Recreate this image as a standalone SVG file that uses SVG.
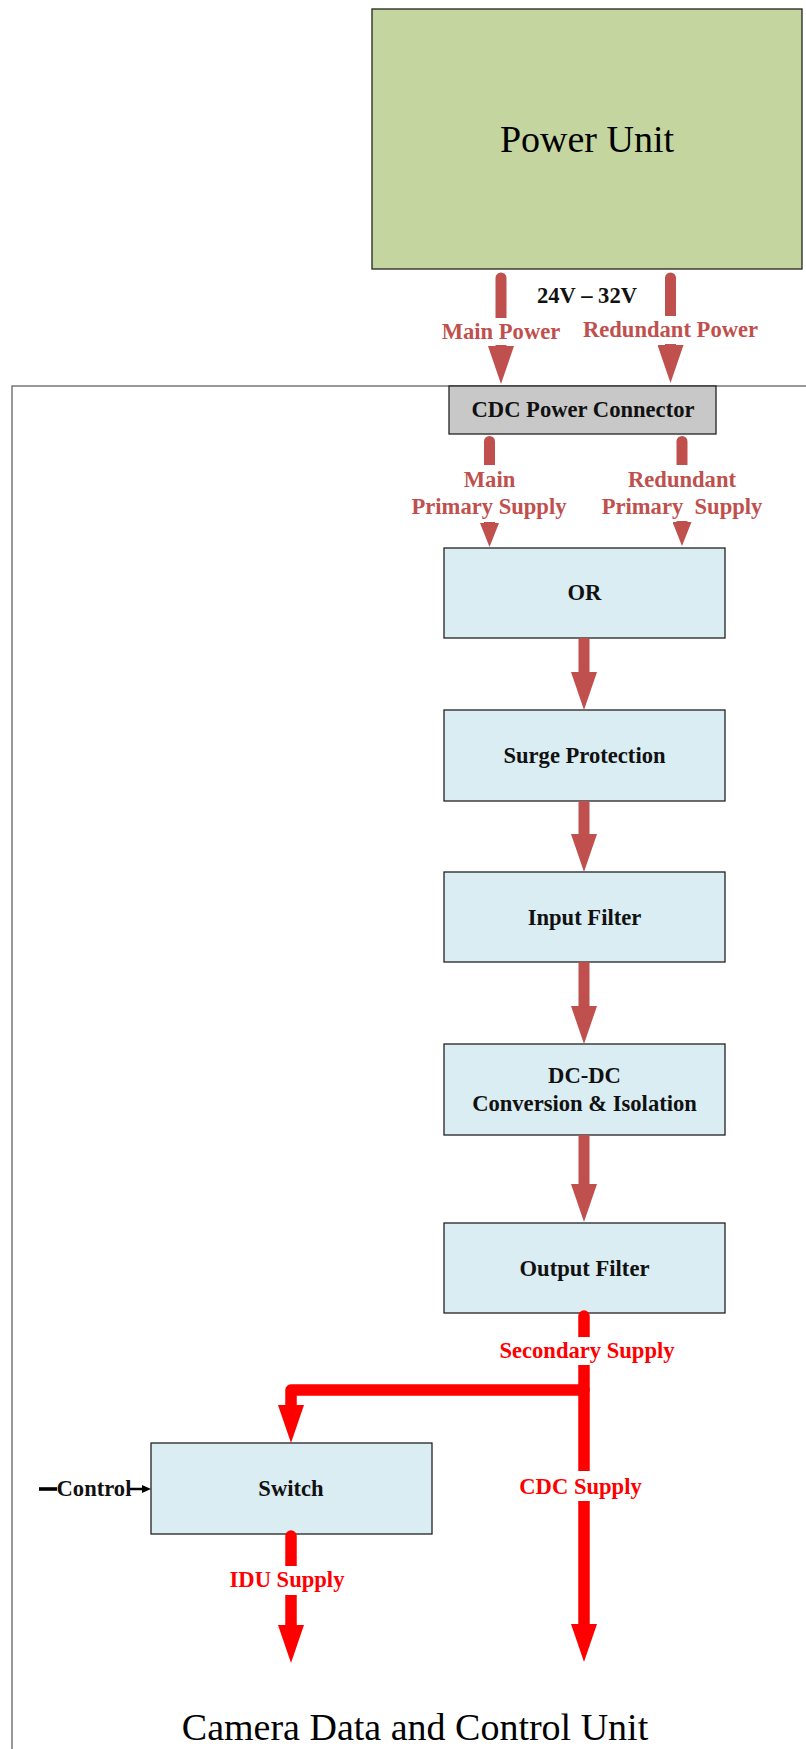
<svg xmlns="http://www.w3.org/2000/svg" width="806" height="1749" viewBox="0 0 806 1749">
  <style>
    text { font-family: "Liberation Serif", "Times New Roman", serif; text-anchor: middle; }
    .box { fill: #DAEDF3; stroke: #222; stroke-width: 1.3; }
    .lbl { font-size: 22.6px; font-weight: bold; fill: #111; }
    .title { font-size: 38px; fill: #000; }
    .pw { fill: none; stroke: #C0504D; stroke-width: 11; stroke-linecap: round; }
    .pwb { fill: none; stroke: #C0504D; stroke-width: 11; stroke-linecap: butt; }
    .sec { fill: none; stroke: #FF0000; stroke-width: 11.5; stroke-linecap: round; stroke-linejoin: round; }
    .pwt { font-size: 22.6px; font-weight: bold; fill: #C0504D; }
    .sect { font-size: 22.6px; font-weight: bold; fill: #FF0000; }
    .bg { fill: #FFFFFF; }
  </style>
  <defs>
    <marker id="headPw" markerUnits="userSpaceOnUse" viewBox="0 0 38 26" markerWidth="38" markerHeight="26" refX="0" refY="13" orient="auto">
      <path d="M0,0 L38,13 L0,26 Z" fill="#C0504D"/>
    </marker>
    <marker id="headPwSmall" markerUnits="userSpaceOnUse" viewBox="0 0 24 19" markerWidth="24" markerHeight="19" refX="0" refY="9.5" orient="auto">
      <path d="M0,0 L24,9.5 L0,19 Z" fill="#C0504D"/>
    </marker>
    <marker id="headSec" markerUnits="userSpaceOnUse" viewBox="0 0 38 26" markerWidth="38" markerHeight="26" refX="0" refY="13" orient="auto">
      <path d="M0,0 L38,13 L0,26 Z" fill="#FF0000"/>
    </marker>
    <marker id="headCtrl" markerUnits="userSpaceOnUse" viewBox="0 0 9 8" markerWidth="9" markerHeight="8" refX="0" refY="4" orient="auto">
      <path d="M0,0 L9,4 L0,8 Z" fill="#000"/>
    </marker>
  </defs>

  <rect width="806" height="1749" fill="#FFFFFF"/>

  <!-- enclosing unit frame (runs off the right and bottom edges) -->
  <g id="cdc-unit">
    <rect x="12" y="386" width="820" height="1420" fill="none" stroke="#6E6E6E" stroke-width="1.4"/>
    <text class="title" x="415" y="1740">Camera Data and Control Unit</text>
  </g>

  <g id="power-unit">
    <rect x="372" y="9" width="430" height="260" fill="#C4D59F" stroke="#222" stroke-width="1.3"/>
    <text class="title" x="587" y="152">Power Unit</text>
  </g>

  <g id="cdc-power-connector">
    <rect x="449" y="386" width="267" height="48" fill="#C8C8C8" stroke="#222" stroke-width="1.3"/>
    <text class="lbl" x="583" y="417">CDC Power Connector</text>
  </g>

  <g id="or">
    <rect class="box" x="444" y="548" width="281" height="90"/>
    <text class="lbl" x="584.5" y="600">OR</text>
  </g>

  <g id="surge-protection">
    <rect class="box" x="444" y="710" width="281" height="91"/>
    <text class="lbl" x="584.5" y="763">Surge Protection</text>
  </g>

  <g id="input-filter">
    <rect class="box" x="444" y="872" width="281" height="90"/>
    <text class="lbl" x="584.5" y="925">Input Filter</text>
  </g>

  <g id="dc-dc">
    <rect class="box" x="444" y="1044" width="281" height="91"/>
    <text class="lbl" x="584.5" y="1083">DC-DC</text>
    <text class="lbl" x="584.5" y="1111">Conversion &amp; Isolation</text>
  </g>

  <g id="output-filter">
    <rect class="box" x="444" y="1223" width="281" height="90"/>
    <text class="lbl" x="584.5" y="1276">Output Filter</text>
  </g>

  <g id="switch">
    <rect class="box" x="151" y="1443" width="281" height="91"/>
    <text class="lbl" x="291" y="1496">Switch</text>
  </g>

  <g id="connectors">
    <!-- supply lines from the power unit -->
    <text class="lbl" x="587" y="303">24V – 32V</text>
    <path class="pw" d="M501 278 V346" marker-end="url(#headPw)"/>
    <rect class="bg" x="437" y="318" width="128" height="27"/>
    <text class="pwt" x="501" y="339">Main Power</text>

    <path class="pw" d="M670.5 278 V345" marker-end="url(#headPw)"/>
    <rect class="bg" x="578" y="316" width="186" height="28"/>
    <text class="pwt" x="670.5" y="337">Redundant Power</text>

    <!-- primary supplies into the OR stage -->
    <path class="pw" d="M489.5 441.5 V523" marker-end="url(#headPwSmall)"/>
    <rect class="bg" x="408" y="465" width="164" height="57"/>
    <text class="pwt" x="489.5" y="487">Main</text>
    <text class="pwt" x="489" y="514">Primary Supply</text>

    <path class="pw" d="M682 441.5 V522" marker-end="url(#headPwSmall)"/>
    <rect class="bg" x="598" y="465" width="168" height="56"/>
    <text class="pwt" x="682" y="487">Redundant</text>
    <text class="pwt" x="682" y="514" xml:space="preserve">Primary  Supply</text>

    <!-- conditioning chain -->
    <path class="pwb" d="M584 638 V672" marker-end="url(#headPw)"/>
    <path class="pwb" d="M584 801 V834" marker-end="url(#headPw)"/>
    <path class="pwb" d="M584 962 V1006" marker-end="url(#headPw)"/>
    <path class="pwb" d="M584 1135 V1184" marker-end="url(#headPw)"/>

    <!-- secondary supply and its branches -->
    <path class="sec" d="M584 1316 V1624" marker-end="url(#headSec)"/>
    <path class="sec" d="M584 1390 H291 V1405" marker-end="url(#headSec)"/>
    <rect class="bg" x="497" y="1337" width="180" height="28"/>
    <text class="sect" x="587" y="1358">Secondary Supply</text>
    <rect class="bg" x="518" y="1471" width="126" height="30"/>
    <text class="sect" x="580.5" y="1494">CDC Supply</text>

    <path class="sec" d="M291 1536 V1625" marker-end="url(#headSec)"/>
    <rect class="bg" x="227" y="1566" width="120" height="29"/>
    <text class="sect" x="287" y="1587">IDU Supply</text>

    <!-- control input to the switch -->
    <line x1="39" y1="1489" x2="57" y2="1489" stroke="#000" stroke-width="3.6"/>
    <text class="lbl" x="94" y="1496">Control</text>
    <line x1="130" y1="1489" x2="142" y2="1489" stroke="#000" stroke-width="2.5" marker-end="url(#headCtrl)"/>
  </g>
</svg>
